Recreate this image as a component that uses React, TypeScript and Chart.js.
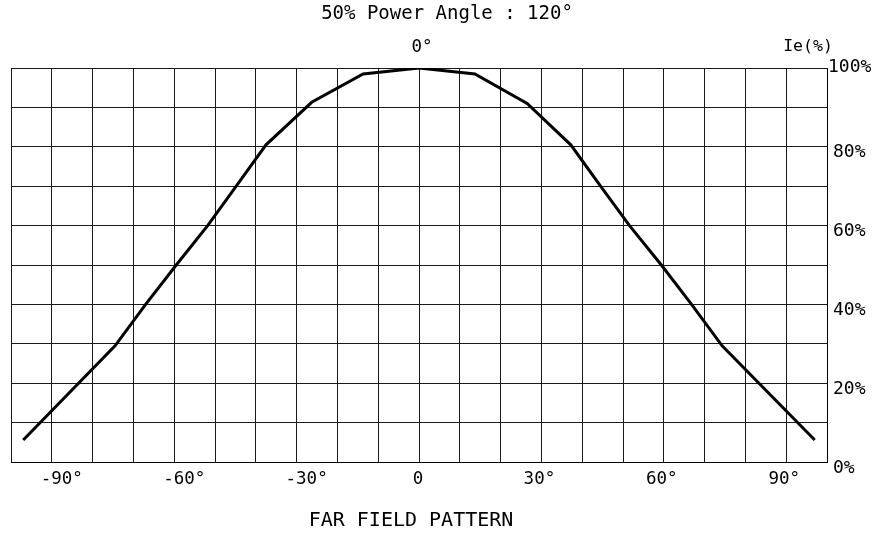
import React, { useEffect, useRef } from "react";
import { Chart, registerables } from "chart.js";

Chart.register(...registerables);

// Far field pattern data (angle in degrees, relative intensity in %)
const angles = [-97, -74.5, -67.0, -59.5, -51.8, -44.8, -37.5, -26.3, -13.7, 0, 13.7, 26.5, 37.2, 44.5, 51.6, 59.4, 66.8, 74.3, 97];
const intensity = [5.6, 29.5, 40, 50, 60, 70, 80.5, 91.3, 98.5, 100, 98.5, 91, 80.5, 70, 60, 50, 40, 29.5, 5.6];

const xTickValues = [-90, -60, -30, 0, 30, 60, 90];
const xTickLabels = ["-90°", "-60°", "-30°", "0", "30°", "60°", "90°"];
const yTickValues = [0, 20, 40, 60, 80, 100];
const yTickLabels = ["0%", "20%", "40%", "60%", "80%", "100%"];

const titleText = "50% Power Angle : 120°";
const topAxisText = "0°";
const yAxisTitle = "Ie(%)";
const bottomText = "FAR FIELD PATTERN";

const FONT = '"DejaVu Sans Mono", monospace';

const textPlugin = {
  id: "cadText",
  afterDraw(chart: any) {
    const ctx = chart.ctx as CanvasRenderingContext2D;
    const xs = chart.scales.x;
    const ys = chart.scales.y;
    const area = chart.chartArea;
    ctx.save();
    ctx.fillStyle = "#000";
    ctx.textBaseline = "middle";

    // x tick labels
    ctx.font = `17.5px ${FONT}`;
    ctx.textAlign = "center";
    xTickValues.forEach((v, i) => {
      const px = xs.getPixelForValue(v);
      const off = v < 0 ? 10 : v > 0 ? -2 : -1;
      ctx.fillText(xTickLabels[i], px + off, area.bottom + 17);
    });

    // y tick labels (right)
    ctx.font = `18px ${FONT}`;
    ctx.textAlign = "left";
    yTickValues.forEach((v, i) => {
      const py = ys.getPixelForValue(v);
      if (v === 100) {
        ctx.fillText(yTickLabels[i], area.right + 1, py - 1);
      } else {
        ctx.fillText(yTickLabels[i], area.right + 6, py + 6);
      }
    });

    // titles
    ctx.textAlign = "center";
    ctx.font = `19px ${FONT}`;
    ctx.fillText(titleText, 447, 14);
    ctx.font = `17.5px ${FONT}`;
    ctx.fillText(topAxisText, xs.getPixelForValue(0) + 3, 47);
    ctx.font = `16.5px ${FONT}`;
    ctx.fillText(yAxisTitle, 808, 47);
    ctx.font = `20px ${FONT}`;
    ctx.fillText(bottomText, 411, 521);
    ctx.restore();
  },
};

export default function App() {
  const canvasRef = useRef<HTMLCanvasElement | null>(null);

  useEffect(() => {
    if (!canvasRef.current) return;
    const chart = new Chart(canvasRef.current, {
      type: "line",
      data: {
        datasets: [
          {
            data: angles.map((a, i) => ({ x: a, y: intensity[i] })),
            borderColor: "#000",
            borderWidth: 3,
            pointRadius: 0,
            tension: 0,
            fill: false,
          },
        ],
      },
      options: {
        animation: false,
        responsive: true,
        maintainAspectRatio: false,
        layout: { padding: { left: 11, right: 47, top: 68, bottom: 74 } },
        plugins: {
          legend: { display: false },
          tooltip: { enabled: false },
          title: { display: false },
        },
        scales: {
          x: {
            type: "linear",
            min: -100,
            max: 100,
            ticks: { stepSize: 10, display: false },
            grid: { color: "#1a1a1a", lineWidth: 1, drawTicks: false },
            border: { display: true, color: "#000", width: 1 },
          },
          y: {
            type: "linear",
            position: "right",
            min: 0,
            max: 100,
            ticks: { stepSize: 10, display: false },
            grid: { color: "#1a1a1a", lineWidth: 1, drawTicks: false },
            border: { display: true, color: "#000", width: 1 },
          },
        },
      },
      plugins: [textPlugin],
    });
    return () => chart.destroy();
  }, []);

  return (
    <div style={{ position: "absolute", left: 0, top: 0, width: 874, height: 536, background: "#fff" }}>
      <canvas ref={canvasRef} />
    </div>
  );
}
